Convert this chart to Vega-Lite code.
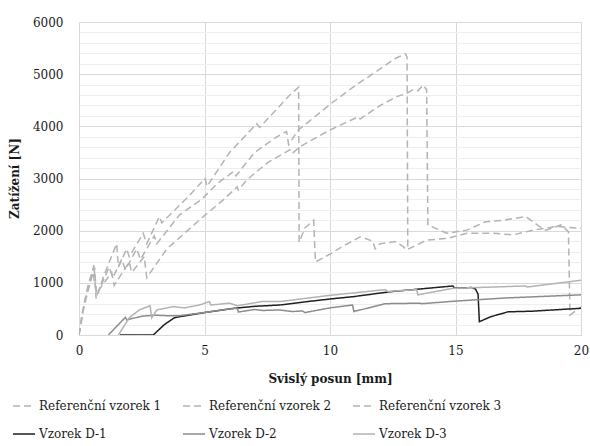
{
  "$schema": "https://vega.github.io/schema/vega-lite/v6.json",
  "width": 502,
  "height": 313,
  "autosize": {"type": "none"},
  "padding": {"left": 79, "top": 22, "right": 9, "bottom": 111},
  "background": "white",
  "config": {"view": {"stroke": "#d9d9d9", "strokeWidth": 1}, "font": "DejaVu Serif"},
  "datasets": {
    "main": [
      {"s": "Referenční vzorek 1", "x": 0, "y": 0},
      {"s": "Referenční vzorek 1", "x": 0.1, "y": 350},
      {"s": "Referenční vzorek 1", "x": 0.35, "y": 930},
      {"s": "Referenční vzorek 1", "x": 0.6, "y": 1340},
      {"s": "Referenční vzorek 1", "x": 0.68, "y": 700},
      {"s": "Referenční vzorek 1", "x": 1.0, "y": 1150},
      {"s": "Referenční vzorek 1", "x": 1.5, "y": 1750},
      {"s": "Referenční vzorek 1", "x": 1.57, "y": 1300},
      {"s": "Referenční vzorek 1", "x": 1.9, "y": 1650},
      {"s": "Referenční vzorek 1", "x": 2.0, "y": 1500},
      {"s": "Referenční vzorek 1", "x": 2.56, "y": 1950},
      {"s": "Referenční vzorek 1", "x": 2.7, "y": 1750},
      {"s": "Referenční vzorek 1", "x": 3.2, "y": 2270},
      {"s": "Referenční vzorek 1", "x": 3.3, "y": 2150},
      {"s": "Referenční vzorek 1", "x": 4.35, "y": 2650},
      {"s": "Referenční vzorek 1", "x": 5.02, "y": 3000},
      {"s": "Referenční vzorek 1", "x": 5.1, "y": 2850},
      {"s": "Referenční vzorek 1", "x": 6.0, "y": 3500},
      {"s": "Referenční vzorek 1", "x": 7.08, "y": 4050},
      {"s": "Referenční vzorek 1", "x": 7.2, "y": 3980},
      {"s": "Referenční vzorek 1", "x": 8.4, "y": 4600},
      {"s": "Referenční vzorek 1", "x": 8.75, "y": 4750},
      {"s": "Referenční vzorek 1", "x": 8.77, "y": 1780},
      {"s": "Referenční vzorek 1", "x": 9.0, "y": 2050},
      {"s": "Referenční vzorek 1", "x": 9.35, "y": 2200},
      {"s": "Referenční vzorek 1", "x": 9.42, "y": 1400},
      {"s": "Referenční vzorek 1", "x": 10.0, "y": 1550},
      {"s": "Referenční vzorek 1", "x": 10.5, "y": 1700},
      {"s": "Referenční vzorek 1", "x": 11.2, "y": 1880},
      {"s": "Referenční vzorek 1", "x": 11.35, "y": 1860},
      {"s": "Referenční vzorek 1", "x": 11.7, "y": 1800},
      {"s": "Referenční vzorek 1", "x": 11.8, "y": 1650},
      {"s": "Referenční vzorek 1", "x": 12.0, "y": 1750},
      {"s": "Referenční vzorek 1", "x": 12.6, "y": 1790},
      {"s": "Referenční vzorek 1", "x": 12.9, "y": 1700},
      {"s": "Referenční vzorek 1", "x": 13.05, "y": 1630},
      {"s": "Referenční vzorek 1", "x": 13.85, "y": 1820},
      {"s": "Referenční vzorek 1", "x": 14.65, "y": 1850},
      {"s": "Referenční vzorek 1", "x": 15.45, "y": 1950},
      {"s": "Referenční vzorek 1", "x": 16.5, "y": 1950},
      {"s": "Referenční vzorek 1", "x": 17.3, "y": 1920},
      {"s": "Referenční vzorek 1", "x": 18.1, "y": 2010},
      {"s": "Referenční vzorek 1", "x": 19.03, "y": 2080},
      {"s": "Referenční vzorek 1", "x": 20, "y": 2045},

      {"s": "Referenční vzorek 2", "x": 0, "y": 0},
      {"s": "Referenční vzorek 2", "x": 0.2, "y": 550},
      {"s": "Referenční vzorek 2", "x": 0.5, "y": 1100},
      {"s": "Referenční vzorek 2", "x": 0.62, "y": 1300},
      {"s": "Referenční vzorek 2", "x": 0.7, "y": 750},
      {"s": "Referenční vzorek 2", "x": 1.2, "y": 1300},
      {"s": "Referenční vzorek 2", "x": 1.35, "y": 1100},
      {"s": "Referenční vzorek 2", "x": 1.7, "y": 1450},
      {"s": "Referenční vzorek 2", "x": 1.85, "y": 1250},
      {"s": "Referenční vzorek 2", "x": 2.3, "y": 1650},
      {"s": "Referenční vzorek 2", "x": 2.45, "y": 1450},
      {"s": "Referenční vzorek 2", "x": 3.0, "y": 1900},
      {"s": "Referenční vzorek 2", "x": 3.1, "y": 1750},
      {"s": "Referenční vzorek 2", "x": 4.0, "y": 2300},
      {"s": "Referenční vzorek 2", "x": 4.89, "y": 2600},
      {"s": "Referenční vzorek 2", "x": 5.5, "y": 2900},
      {"s": "Referenční vzorek 2", "x": 6.15, "y": 3130},
      {"s": "Referenční vzorek 2", "x": 6.25, "y": 3050},
      {"s": "Referenční vzorek 2", "x": 7.0, "y": 3500},
      {"s": "Referenční vzorek 2", "x": 7.88, "y": 3800},
      {"s": "Referenční vzorek 2", "x": 8.27, "y": 3900},
      {"s": "Referenční vzorek 2", "x": 8.35, "y": 3650},
      {"s": "Referenční vzorek 2", "x": 8.74, "y": 3930},
      {"s": "Referenční vzorek 2", "x": 10.0, "y": 4420},
      {"s": "Referenční vzorek 2", "x": 11.0, "y": 4780},
      {"s": "Referenční vzorek 2", "x": 12.0, "y": 5100},
      {"s": "Referenční vzorek 2", "x": 12.6, "y": 5300},
      {"s": "Referenční vzorek 2", "x": 13.0, "y": 5390},
      {"s": "Referenční vzorek 2", "x": 13.07, "y": 5330},
      {"s": "Referenční vzorek 2", "x": 13.1, "y": 1650},

      {"s": "Referenční vzorek 3", "x": 0, "y": 0},
      {"s": "Referenční vzorek 3", "x": 0.25, "y": 700},
      {"s": "Referenční vzorek 3", "x": 0.55, "y": 1200},
      {"s": "Referenční vzorek 3", "x": 0.7, "y": 800},
      {"s": "Referenční vzorek 3", "x": 1.3, "y": 1200},
      {"s": "Referenční vzorek 3", "x": 1.4, "y": 950},
      {"s": "Referenční vzorek 3", "x": 2.0, "y": 1400},
      {"s": "Referenční vzorek 3", "x": 2.1, "y": 1200},
      {"s": "Referenční vzorek 3", "x": 2.6, "y": 1500},
      {"s": "Referenční vzorek 3", "x": 2.7, "y": 1100},
      {"s": "Referenční vzorek 3", "x": 3.5, "y": 1650},
      {"s": "Referenční vzorek 3", "x": 4.95, "y": 2270},
      {"s": "Referenční vzorek 3", "x": 5.75, "y": 2590},
      {"s": "Referenční vzorek 3", "x": 6.3, "y": 2840},
      {"s": "Referenční vzorek 3", "x": 6.35, "y": 2780},
      {"s": "Referenční vzorek 3", "x": 6.68, "y": 2970},
      {"s": "Referenční vzorek 3", "x": 7.5, "y": 3300},
      {"s": "Referenční vzorek 3", "x": 8.4, "y": 3550},
      {"s": "Referenční vzorek 3", "x": 8.5, "y": 3480},
      {"s": "Referenční vzorek 3", "x": 8.8, "y": 3610},
      {"s": "Referenční vzorek 3", "x": 10.0, "y": 3930},
      {"s": "Referenční vzorek 3", "x": 11.13, "y": 4185},
      {"s": "Referenční vzorek 3", "x": 11.2, "y": 4140},
      {"s": "Referenční vzorek 3", "x": 12.0, "y": 4400},
      {"s": "Referenční vzorek 3", "x": 12.66, "y": 4570},
      {"s": "Referenční vzorek 3", "x": 13.05, "y": 4630},
      {"s": "Referenční vzorek 3", "x": 13.3, "y": 4700},
      {"s": "Referenční vzorek 3", "x": 13.5, "y": 4680},
      {"s": "Referenční vzorek 3", "x": 13.72, "y": 4790},
      {"s": "Referenční vzorek 3", "x": 13.85, "y": 4700},
      {"s": "Referenční vzorek 3", "x": 13.9, "y": 2110},
      {"s": "Referenční vzorek 3", "x": 14.65, "y": 1950},
      {"s": "Referenční vzorek 3", "x": 15.45, "y": 2010},
      {"s": "Referenční vzorek 3", "x": 16.2, "y": 2170},
      {"s": "Referenční vzorek 3", "x": 16.9, "y": 2200},
      {"s": "Referenční vzorek 3", "x": 17.8, "y": 2270},
      {"s": "Referenční vzorek 3", "x": 18.35, "y": 2080},
      {"s": "Referenční vzorek 3", "x": 18.6, "y": 2010},
      {"s": "Referenční vzorek 3", "x": 19.2, "y": 2110},
      {"s": "Referenční vzorek 3", "x": 19.5, "y": 1980},
      {"s": "Referenční vzorek 3", "x": 19.56, "y": 380},
      {"s": "Referenční vzorek 3", "x": 20, "y": 540},

      {"s": "Vzorek D-1", "x": 1.63, "y": 0},
      {"s": "Vzorek D-1", "x": 2.96, "y": 0},
      {"s": "Vzorek D-1", "x": 3.4, "y": 200},
      {"s": "Vzorek D-1", "x": 3.8, "y": 330},
      {"s": "Vzorek D-1", "x": 4.0, "y": 350},
      {"s": "Vzorek D-1", "x": 5.0, "y": 430},
      {"s": "Vzorek D-1", "x": 6.15, "y": 510},
      {"s": "Vzorek D-1", "x": 7.0, "y": 550},
      {"s": "Vzorek D-1", "x": 8.0, "y": 575},
      {"s": "Vzorek D-1", "x": 9.0, "y": 635},
      {"s": "Vzorek D-1", "x": 10.0, "y": 690},
      {"s": "Vzorek D-1", "x": 10.93, "y": 735},
      {"s": "Vzorek D-1", "x": 12.4, "y": 830},
      {"s": "Vzorek D-1", "x": 14.9, "y": 940},
      {"s": "Vzorek D-1", "x": 14.95, "y": 900},
      {"s": "Vzorek D-1", "x": 15.65, "y": 910},
      {"s": "Vzorek D-1", "x": 15.8, "y": 880},
      {"s": "Vzorek D-1", "x": 15.9, "y": 780},
      {"s": "Vzorek D-1", "x": 15.95, "y": 255},
      {"s": "Vzorek D-1", "x": 16.4, "y": 350},
      {"s": "Vzorek D-1", "x": 17.1, "y": 445},
      {"s": "Vzorek D-1", "x": 18.0, "y": 455},
      {"s": "Vzorek D-1", "x": 20, "y": 512},

      {"s": "Vzorek D-2", "x": 1.17, "y": 0},
      {"s": "Vzorek D-2", "x": 1.85, "y": 340},
      {"s": "Vzorek D-2", "x": 1.9, "y": 290},
      {"s": "Vzorek D-2", "x": 2.5, "y": 360},
      {"s": "Vzorek D-2", "x": 3.0, "y": 380},
      {"s": "Vzorek D-2", "x": 3.5, "y": 370},
      {"s": "Vzorek D-2", "x": 4.0, "y": 370},
      {"s": "Vzorek D-2", "x": 5.0, "y": 430},
      {"s": "Vzorek D-2", "x": 6.0, "y": 500},
      {"s": "Vzorek D-2", "x": 6.3, "y": 510},
      {"s": "Vzorek D-2", "x": 6.35, "y": 440},
      {"s": "Vzorek D-2", "x": 7.0, "y": 490},
      {"s": "Vzorek D-2", "x": 7.3, "y": 470},
      {"s": "Vzorek D-2", "x": 8.0, "y": 480},
      {"s": "Vzorek D-2", "x": 8.5, "y": 450},
      {"s": "Vzorek D-2", "x": 8.9, "y": 460},
      {"s": "Vzorek D-2", "x": 9.0, "y": 430},
      {"s": "Vzorek D-2", "x": 10.0, "y": 520},
      {"s": "Vzorek D-2", "x": 10.9, "y": 575},
      {"s": "Vzorek D-2", "x": 10.95, "y": 450},
      {"s": "Vzorek D-2", "x": 12.2, "y": 600},
      {"s": "Vzorek D-2", "x": 13.6, "y": 610},
      {"s": "Vzorek D-2", "x": 13.65, "y": 600},
      {"s": "Vzorek D-2", "x": 15.0, "y": 650},
      {"s": "Vzorek D-2", "x": 17.0, "y": 710},
      {"s": "Vzorek D-2", "x": 20, "y": 770},

      {"s": "Vzorek D-3", "x": 1.57, "y": 0},
      {"s": "Vzorek D-3", "x": 2.0, "y": 330},
      {"s": "Vzorek D-3", "x": 2.4, "y": 480},
      {"s": "Vzorek D-3", "x": 2.83, "y": 560},
      {"s": "Vzorek D-3", "x": 2.9, "y": 330},
      {"s": "Vzorek D-3", "x": 3.1, "y": 480},
      {"s": "Vzorek D-3", "x": 3.76, "y": 545},
      {"s": "Vzorek D-3", "x": 4.2, "y": 520},
      {"s": "Vzorek D-3", "x": 4.8, "y": 575},
      {"s": "Vzorek D-3", "x": 5.2, "y": 640},
      {"s": "Vzorek D-3", "x": 5.25, "y": 575},
      {"s": "Vzorek D-3", "x": 6.0, "y": 610},
      {"s": "Vzorek D-3", "x": 6.3, "y": 560},
      {"s": "Vzorek D-3", "x": 7.28, "y": 640},
      {"s": "Vzorek D-3", "x": 8.0, "y": 640},
      {"s": "Vzorek D-3", "x": 9.0, "y": 700},
      {"s": "Vzorek D-3", "x": 10.0, "y": 760},
      {"s": "Vzorek D-3", "x": 11.0, "y": 810},
      {"s": "Vzorek D-3", "x": 12.2, "y": 870},
      {"s": "Vzorek D-3", "x": 12.3, "y": 835},
      {"s": "Vzorek D-3", "x": 13.45, "y": 870},
      {"s": "Vzorek D-3", "x": 13.5, "y": 770},
      {"s": "Vzorek D-3", "x": 14.9, "y": 895},
      {"s": "Vzorek D-3", "x": 17.8, "y": 940},
      {"s": "Vzorek D-3", "x": 17.85, "y": 920},
      {"s": "Vzorek D-3", "x": 20, "y": 1050}
    ]
  },
  "data": {"name": "main"},
  "mark": {"type": "line", "clip": true},
  "encoding": {
    "x": {
      "field": "x", "type": "quantitative",
      "scale": {"domain": [0, 20], "nice": false, "zero": false},
      "axis": {
        "values": [0, 5, 10, 15, 20],
        "title": "Svislý posun [mm]",
        "grid": true, "gridColor": "#d9d9d9", "gridWidth": 1,
        "domain": false, "ticks": false, "labelFlush": false,
        "labelFont": "DejaVu Serif", "labelFontSize": 12, "labelColor": "#1a1a1a", "labelPadding": 10,
        "titleFont": "DejaVu Serif", "titleFontSize": 12, "titleFontWeight": "bold", "titleColor": "#1a1a1a",
        "titleY": 47, "titleBaseline": "alphabetic"
      }
    },
    "y": {
      "field": "y", "type": "quantitative",
      "scale": {"domain": [0, 6000], "nice": false},
      "axis": {
        "values": [0, 200, 400, 600, 800, 1000, 1200, 1400, 1600, 1800, 2000, 2200, 2400, 2600, 2800, 3000, 3200, 3400, 3600, 3800, 4000, 4200, 4400, 4600, 4800, 5000, 5200, 5400, 5600, 5800, 6000],
        "format": "d",
        "labelExpr": "datum.value % 1000 === 0 ? datum.label : ''",
        "title": "Zatížení [N]",
        "grid": true,
        "gridColor": {"condition": {"test": "datum.value % 1000 === 0", "value": "#d9d9d9"}, "value": "#eeeeee"},
        "domain": false, "ticks": false, "labelFlush": false,
        "labelFont": "DejaVu Serif", "labelFontSize": 12, "labelColor": "#1a1a1a", "labelPadding": 16,
        "titleFont": "DejaVu Serif", "titleFontSize": 12, "titleFontWeight": "bold", "titleColor": "#1a1a1a",
        "titleX": -61, "titleY": 156, "titleAngle": -90, "titleAlign": "center", "titleBaseline": "alphabetic"
      }
    },
    "color": {
      "field": "s", "type": "nominal",
      "scale": {
        "domain": ["Referenční vzorek 1", "Referenční vzorek 2", "Referenční vzorek 3", "Vzorek D-1", "Vzorek D-2", "Vzorek D-3"],
        "range": ["#b3b3b3", "#b3b3b3", "#b3b3b3", "#1f1f1f", "#8c8c8c", "#b3b3b3"]
      },
      "legend": {
        "title": null, "orient": "none", "legendX": -67, "legendY": 372, "columns": 3, "direction": "horizontal",
        "symbolType": "stroke", "symbolSize": 484,
        "labelFont": "DejaVu Serif", "labelFontSize": 12, "labelColor": "#1a1a1a", "labelOffset": 3,
        "columnPadding": 18, "rowPadding": 10, "labelLimit": 300
      }
    },
    "strokeDash": {
      "field": "s", "type": "nominal",
      "scale": {
        "domain": ["Referenční vzorek 1", "Referenční vzorek 2", "Referenční vzorek 3", "Vzorek D-1", "Vzorek D-2", "Vzorek D-3"],
        "range": [[7, 4], [7, 4], [7, 4], [1, 0], [1, 0], [1, 0]]
      },
      "legend": {
        "title": null, "orient": "none", "legendX": -67, "legendY": 372, "columns": 3, "direction": "horizontal",
        "symbolType": "stroke", "symbolSize": 484,
        "labelFont": "DejaVu Serif", "labelFontSize": 12, "labelColor": "#1a1a1a", "labelOffset": 3,
        "columnPadding": 18, "rowPadding": 10, "labelLimit": 300
      }
    },
    "strokeWidth": {
      "field": "s", "type": "nominal",
      "scale": {
        "domain": ["Referenční vzorek 1", "Referenční vzorek 2", "Referenční vzorek 3", "Vzorek D-1", "Vzorek D-2", "Vzorek D-3"],
        "range": [1.5, 1.5, 1.5, 2, 1.6, 1.6]
      },
      "legend": {
        "title": null, "orient": "none", "legendX": -67, "legendY": 372, "columns": 3, "direction": "horizontal",
        "symbolType": "stroke", "symbolSize": 484,
        "labelFont": "DejaVu Serif", "labelFontSize": 12, "labelColor": "#1a1a1a", "labelOffset": 3,
        "columnPadding": 18, "rowPadding": 10, "labelLimit": 300
      }
    }
  }
}
